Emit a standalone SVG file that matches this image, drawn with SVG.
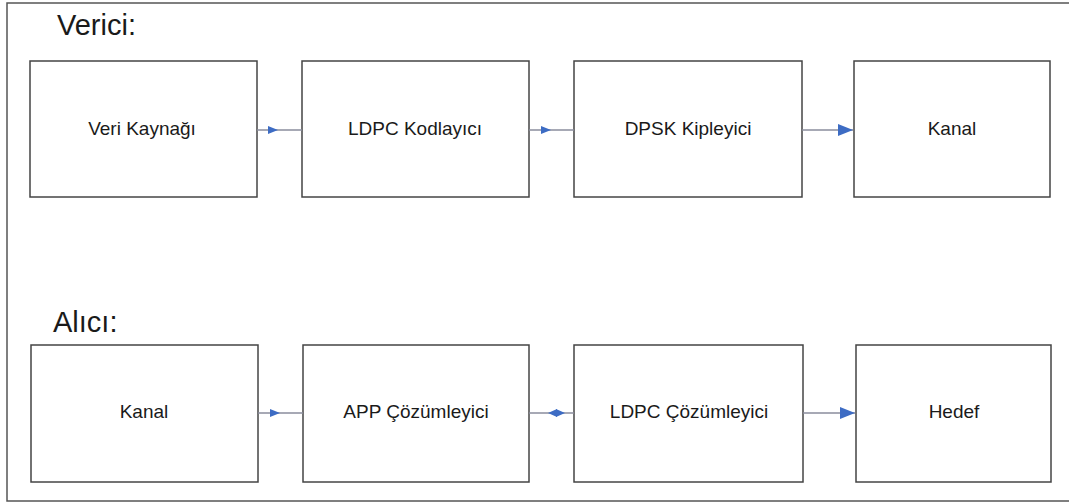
<svg xmlns="http://www.w3.org/2000/svg" width="1069" height="504" viewBox="0 0 1069 504">
  <defs>
    <style>
      .frame { fill: #ffffff; stroke: #555555; stroke-width: 1.5; }
      .box { fill: #ffffff; stroke: #444444; stroke-width: 1.5; }
      .label { font-family: "Liberation Sans", Arial, sans-serif; font-size: 19px; fill: #1a1a1a; text-anchor: middle; }
      .title { font-family: "Liberation Sans", Arial, sans-serif; font-size: 29px; fill: #1a1a1a; }
      .wire { fill: none; stroke: #8a8c9c; stroke-width: 1.6; }
      .tip { fill: #3d6cc4; }
    </style>
    <marker id="head-s" viewBox="0 0 10 8" refX="10" refY="4" markerWidth="10" markerHeight="8" markerUnits="userSpaceOnUse" orient="auto">
      <path d="M0,0 L10,4 L0,8 Z" fill="#3d6cc4"/>
    </marker>
    <marker id="head-l" viewBox="0 0 10 8" refX="10" refY="4" markerWidth="16" markerHeight="12" markerUnits="userSpaceOnUse" orient="auto">
      <path d="M0,0 L10,4 L0,8 Z" fill="#3d6cc4"/>
    </marker>
  </defs>

  <rect class="frame" x="7" y="3" width="1070" height="498"/>

  <text class="title" x="57" y="35">Verici:</text>
  <text class="title" x="53" y="332">Alıcı:</text>

  <!-- transmitter chain -->
  <g id="veri-kaynagi">
    <rect class="box" x="30" y="61" width="227" height="136"/>
    <text class="label" x="142" y="135">Veri Kaynağı</text>
  </g>
  <g id="ldpc-kodlayici">
    <rect class="box" x="302" y="61" width="227" height="136"/>
    <text class="label" x="415" y="135">LDPC Kodlayıcı</text>
  </g>
  <g id="dpsk-kipleyici">
    <rect class="box" x="574" y="61" width="228" height="136"/>
    <text class="label" x="688" y="135">DPSK Kipleyici</text>
  </g>
  <g id="kanal-tx">
    <rect class="box" x="854" y="61" width="196" height="136"/>
    <text class="label" x="952" y="135">Kanal</text>
  </g>

  <!-- receiver chain -->
  <g id="kanal-rx">
    <rect class="box" x="31" y="345" width="227" height="137"/>
    <text class="label" x="144" y="418">Kanal</text>
  </g>
  <g id="app-cozumleyici">
    <rect class="box" x="303" y="345" width="226" height="137"/>
    <text class="label" x="416" y="418">APP Çözümleyici</text>
  </g>
  <g id="ldpc-cozumleyici">
    <rect class="box" x="574" y="345" width="229" height="137"/>
    <text class="label" x="689" y="418">LDPC Çözümleyici</text>
  </g>
  <g id="hedef">
    <rect class="box" x="856" y="345" width="195" height="137"/>
    <text class="label" x="954" y="418">Hedef</text>
  </g>

  <!-- connectors -->
  <g id="connectors">
    <path class="wire" d="M257 130 H278 H302" marker-mid="url(#head-s)"/>
    <path class="wire" d="M529 130 H551 H574" marker-mid="url(#head-s)"/>
    <path class="wire" d="M802 130 H853" marker-end="url(#head-l)"/>

    <path class="wire" d="M258 413 H280 H303" marker-mid="url(#head-s)"/>
    <!-- two-way link between the decoders -->
    <path class="wire" d="M529 413 H574"/>
    <polygon class="tip" points="548,413 557,409 557,417"/>
    <polygon class="tip" points="565,413 556,409 556,417"/>
    <path class="wire" d="M803 413 H855" marker-end="url(#head-l)"/>
  </g>
</svg>
